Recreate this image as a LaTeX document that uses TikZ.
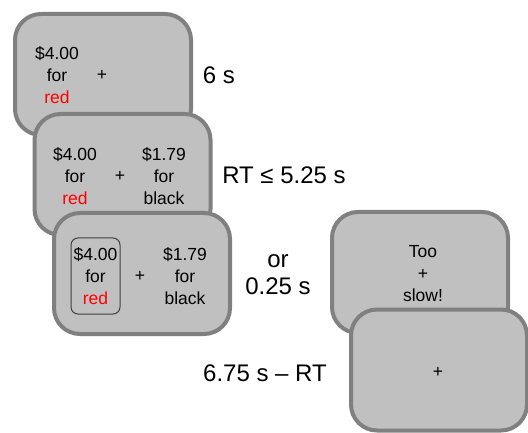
\documentclass[tikz,border=0pt]{standalone}
\usepackage{fontspec}
\setmainfont{Liberation Sans}
\definecolor{scrgray}{RGB}{128,128,128}
\definecolor{scrfill}{RGB}{192,192,192}
\definecolor{boxline}{RGB}{64,64,64}
\begin{document}
\begin{tikzpicture}[x=1pt,y=-1pt,
  screen/.style={draw=scrgray, line width=4pt, fill=scrfill, rounded corners=26pt,
    minimum width=176pt, minimum height=121pt, inner sep=0pt},
  txt/.style={font=\fontsize{17.5}{22}\selectfont, align=center, inner sep=0pt},
  big/.style={font=\fontsize{24}{27}\selectfont, align=center, inner sep=0pt},
  choice/.style={draw=boxline, line width=1pt, rounded corners=7pt,
    minimum width=49pt, minimum height=76pt, inner sep=0pt, font=\fontsize{17.5}{22}\selectfont, align=center}]
\useasboundingbox (0,0) rectangle (528,433);
% screens
\node[screen] (s1) at (103,74.5) {};
\node[screen] (s2) at (122.5,174.5) {};
\node[screen] (s3) at (142,273.5) {};
\node[screen] (s4) at (420,272.5) {};
\node[screen] (s5) at (439,370) {};
% screen 1
\node[txt] (s1a) at (57,75) {\$4.00\\for\\\textcolor{red}{red}};
\node[txt] (s1p) at (102,75) {+};
% screen 2
\node[txt] (s2a) at (75,176) {\$4.00\\for\\\textcolor{red}{red}};
\node[txt] (s2p) at (120,176) {+};
\node[txt] (s2b) at (164,176) {\$1.79\\for\\black};
% screen 3
\node[choice] (s3a) at (95.5,276) {\$4.00\\for\\\textcolor{red}{red}};
\node[txt] (s3p) at (140,276) {+};
\node[txt] (s3b) at (185,276) {\$1.79\\for\\black};
% screen 4
\node[txt] (s4a) at (423,274) {Too\\+\\slow!};
% screen 5
\node[txt] (s5p) at (438,372) {+};
% timing labels
\node[big] (t1) at (219,75) {6 s};
\node[big] (t2) at (284,175) {RT ≤ 5.25 s};
\node[big] (t3) at (278,275) {or\\0.25 s};
\node[big] (t4) at (265,373) {6.75 s – RT};
\end{tikzpicture}
\end{document}
